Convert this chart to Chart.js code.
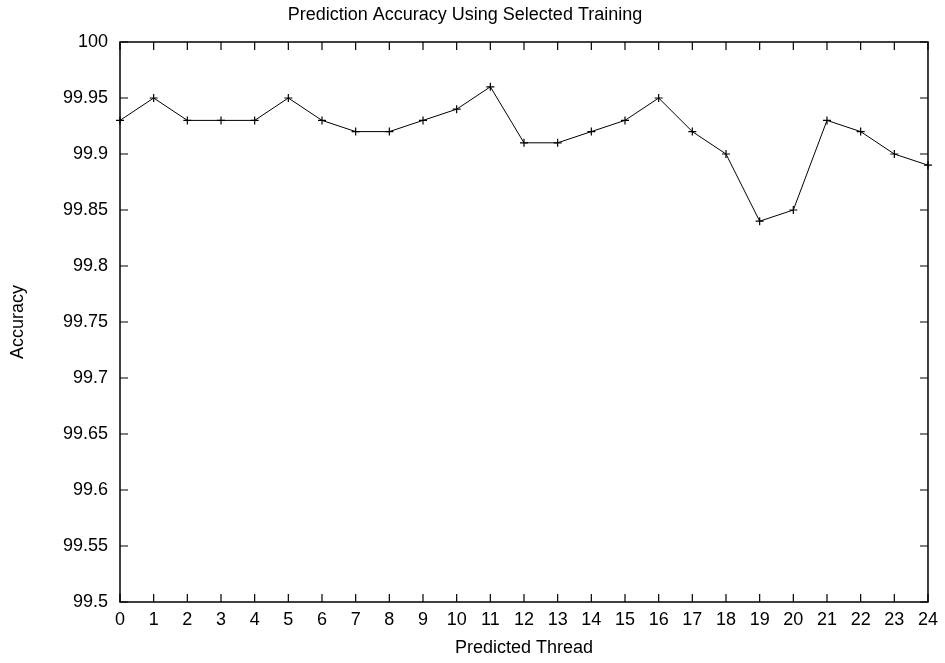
<!DOCTYPE html>
<html>
<head>
<meta charset="utf-8">
<title>Prediction Accuracy Using Selected Training</title>
<script src="https://cdn.jsdelivr.net/npm/chart.js@4"></script>
<style>
  html, body { margin: 0; padding: 0; background: #fff; }
  canvas { display: block; }
</style>
</head>
<body>
<canvas id="accChart" width="945" height="663"></canvas>
<script>
// data
var threads = ['0', '1', '2', '3', '4', '5', '6', '7', '8', '9', '10', '11', '12',
               '13', '14', '15', '16', '17', '18', '19', '20', '21', '22', '23', '24'];
var accuracy = [99.93, 99.95, 99.93, 99.93, 99.93, 99.95, 99.93, 99.92, 99.92, 99.93, 99.94, 99.96, 99.91,
                99.91, 99.92, 99.93, 99.95, 99.92, 99.90, 99.84, 99.85, 99.93, 99.92, 99.90, 99.89];
var yMin = 99.5, yMax = 100, yStep = 0.05;

var FONT = { family: '"Liberation Sans", Arial, Helvetica, sans-serif', size: 18 };

// gnuplot style: framed plot with tick marks pointing inwards on all sides
var innerTicks = {
    id: 'innerTicks',
    afterDraw: function (chart) {
        var ctx = chart.ctx;
        var a = chart.chartArea;
        var xs = chart.scales.x, ys = chart.scales.y;
        var len = 8;
        ctx.save();
        ctx.strokeStyle = '#000';
        ctx.lineWidth = 1.5;
        ctx.strokeRect(a.left, a.top, a.right - a.left, a.bottom - a.top);
        ctx.lineWidth = 1.2;
        ctx.beginPath();
        xs.ticks.forEach(function (t, i) {
            var px = xs.getPixelForTick(i);
            ctx.moveTo(px, a.bottom); ctx.lineTo(px, a.bottom - len);
            ctx.moveTo(px, a.top); ctx.lineTo(px, a.top + len);
        });
        ys.ticks.forEach(function (t, i) {
            var py = ys.getPixelForTick(i);
            ctx.moveTo(a.left, py); ctx.lineTo(a.left + len, py);
            ctx.moveTo(a.right, py); ctx.lineTo(a.right - len, py);
        });
        ctx.stroke();
        ctx.restore();
    }
};

window.addEventListener('load', function () {
    var ctx = document.getElementById('accChart').getContext('2d');

    var accChart = new Chart(ctx, {
        type: 'line',
        data: {
            labels: threads,
            datasets: [{
                label: 'Accuracy',
                data: accuracy,
                borderColor: '#000',
                backgroundColor: '#000',
                borderWidth: 1,
                tension: 0,
                fill: false,
                clip: false,
                pointStyle: 'cross',
                pointRadius: 4,
                pointBorderWidth: 1.2,
                pointBorderColor: '#000'
            }]
        },
        options: {
            responsive: false,
            animation: false,
            devicePixelRatio: 1,
            layout: { padding: { left: 0, right: 15, top: 0, bottom: 0 } },
            plugins: {
                legend: { display: false },
                tooltip: { enabled: false },
                title: {
                    display: true,
                    text: 'Prediction Accuracy Using Selected Training',
                    color: '#000',
                    font: { family: FONT.family, size: 18, weight: 'normal' },
                    padding: { top: 4, bottom: 16.4 }
                }
            },
            scales: {
                x: {
                    type: 'category',
                    offset: false,
                    grid: { display: false, drawTicks: false },
                    border: { display: false },
                    ticks: {
                        color: '#000',
                        font: FONT,
                        padding: 7,
                        autoSkip: false,
                        maxRotation: 0
                    },
                    title: {
                        display: true,
                        text: 'Predicted Thread',
                        color: '#000',
                        font: FONT,
                        padding: { top: 0, bottom: 4 }
                    },
                    afterFit: function (s) { s.height = 61; }
                },
                y: {
                    min: yMin,
                    max: yMax,
                    grid: { display: false, drawTicks: false },
                    border: { display: false },
                    ticks: {
                        stepSize: yStep,
                        color: '#000',
                        font: FONT,
                        padding: 12,
                        callback: function (v) { return String(Number(v.toFixed(2))); }
                    },
                    title: {
                        display: true,
                        text: 'Accuracy',
                        color: '#000',
                        font: FONT,
                        padding: { top: 7, bottom: 0 }
                    },
                    afterFit: function (s) { s.width = 120; }
                }
            }
        },
        plugins: [innerTicks]
    });
});
</script>
</body>
</html>
